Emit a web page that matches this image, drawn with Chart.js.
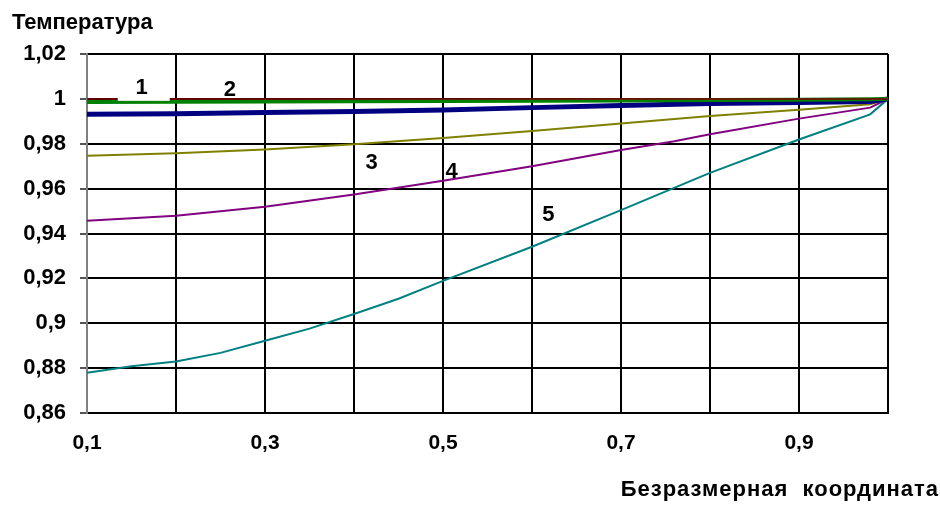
<!DOCTYPE html>
<html>
<head>
<meta charset="utf-8">
<script src="https://cdn.jsdelivr.net/npm/chart.js@4.4.0/dist/chart.umd.min.js"></script>
<style>
  body { margin: 0; background: #fff; }
  #wrap { width: 940px; height: 506px; }
</style>
</head>
<body>
<div id="wrap"><canvas id="chart" width="940" height="506"></canvas></div>
<script>
// x positions of the computed points
const xs = [0.1, 0.2, 0.3, 0.4, 0.5, 0.6, 0.7, 0.8, 0.9, 0.98, 1.0];
const xsPurple = [0.1, 0.2, 0.3, 0.4, 0.5, 0.6, 0.7, 0.76, 0.8, 0.9, 0.98, 1.0];
const xsTeal = [0.1, 0.15, 0.2, 0.25, 0.3, 0.35, 0.4, 0.45, 0.5, 0.6, 0.7, 0.8, 0.9, 0.98, 1.0];

// curves 1..5 (plus the navy one without a number)
const curveMaroon = [1, 1, 1, 1, 1, 1, 1, 1, 1, 1, 1];
const curveGreen = [0.9986, 0.9987, 0.9988, 0.9989, 0.999, 0.9992, 0.9993, 0.9995, 0.9996, 0.9998, 1.0];
const curveNavy = [0.9931, 0.9934, 0.9939, 0.9944, 0.995, 0.9961, 0.997, 0.9979, 0.9984, 0.9988, 1.0];
const curveOlive = [0.9746, 0.9758, 0.9774, 0.9798, 0.9826, 0.9857, 0.989, 0.9924, 0.9952, 0.9976, 1.0];
const curvePurple = [0.9457, 0.9479, 0.9519, 0.9574, 0.9635, 0.97, 0.9772, 0.9811, 0.9842, 0.9912, 0.9961, 1.0];
const curveTeal = [0.8779, 0.8808, 0.883, 0.8868, 0.8922, 0.8976, 0.9041, 0.9109, 0.9189, 0.9341, 0.9504, 0.967, 0.9819, 0.9931, 1.0];

// curve numbers written on the plot (data coords)
const labelText = ['1', '2', '3', '4', '5'];
const labelX = [0.1615, 0.2606, 0.4197, 0.5098, 0.6185];
const labelY = [1.0047, 1.0038, 0.9713, 0.9673, 0.9482];

const yTitle = 'Температура';
const xTitle = 'Безразмерная  координата';

const FONT = '"Liberation Sans", Arial, sans-serif';

function pts(x, y) {
  return x.map((v, i) => ({ x: v, y: y[i] }));
}

function fmt(v, d) {
  return (+v.toFixed(d)).toString().replace('.', ',');
}

const textPlugin = {
  id: 'texts',
  afterDraw(chart) {
    const ctx = chart.ctx;
    const sx = chart.scales.x, sy = chart.scales.y;
    ctx.save();
    ctx.fillStyle = '#000';
    ctx.textBaseline = 'alphabetic';
    ctx.font = 'bold 22px ' + FONT;
    ctx.textAlign = 'left';
    ctx.fillText(yTitle, 12, 29);
    ctx.textAlign = 'right';
    ctx.letterSpacing = '1px';
    ctx.fillText(xTitle, 939, 496);
    ctx.letterSpacing = '0px';

    ctx.font = 'bold 22px ' + FONT;
    ctx.textAlign = 'center';
    ctx.textBaseline = 'middle';
    labelText.forEach((t, i) => {
      const px = sx.getPixelForValue(labelX[i]);
      const py = sy.getPixelForValue(labelY[i]);
      if (i === 0) {
        ctx.fillStyle = '#fff';
        ctx.fillRect(px - 24, py - 13, 52, 25.5);
        ctx.fillStyle = '#000';
      }
      ctx.fillText(t, px, py);
    });
    ctx.restore();
  }
};

new Chart(document.getElementById('chart'), {
  type: 'line',
  data: {
    datasets: [
      { data: pts(xs, curveMaroon), borderColor: '#800000', borderWidth: 1.5 },
      { data: pts(xs, curveGreen), borderColor: '#008000', borderWidth: 4 },
      { data: pts(xs, curveNavy), borderColor: '#000080', borderWidth: 5 },
      { data: pts(xs, curveOlive), borderColor: '#808000', borderWidth: 2 },
      { data: pts(xsPurple, curvePurple), borderColor: '#800080', borderWidth: 2 },
      { data: pts(xsTeal, curveTeal), borderColor: '#008080', borderWidth: 2 }
    ]
  },
  options: {
    responsive: false,
    animation: false,
    clip: false,
    elements: { point: { radius: 0 }, line: { tension: 0 } },
    layout: { padding: { top: 54, right: 52, left: 0, bottom: 0 } },
    plugins: { legend: { display: false }, tooltip: { enabled: false } },
    scales: {
      x: {
        type: 'linear',
        min: 0.1,
        max: 1.0,
        afterFit(s) { s.height = 93; },
        grid: { color: '#000', lineWidth: 2, drawTicks: false },
        border: { color: '#000', width: 2 },
        ticks: {
          stepSize: 0.1,
          autoSkip: false,
          maxRotation: 0,
          padding: 18,
          color: '#000',
          font: { family: FONT, size: 21, weight: 'bold' },
          callback: (v, i) => (i % 2 === 0 && i < 9) ? fmt(v, 1) : ''
        }
      },
      y: {
        min: 0.86,
        max: 1.02,
        afterFit(s) { s.width = 87; },
        grid: { color: '#000', lineWidth: 2, tickColor: '#555', tickLength: 7 },
        border: { color: '#808080', width: 2 },
        ticks: {
          stepSize: 0.02,
          padding: 14,
          color: '#000',
          font: { family: FONT, size: 22, weight: 'bold' },
          callback: v => fmt(v, 2)
        }
      }
    }
  },
  plugins: [textPlugin]
});
</script>
</body>
</html>
